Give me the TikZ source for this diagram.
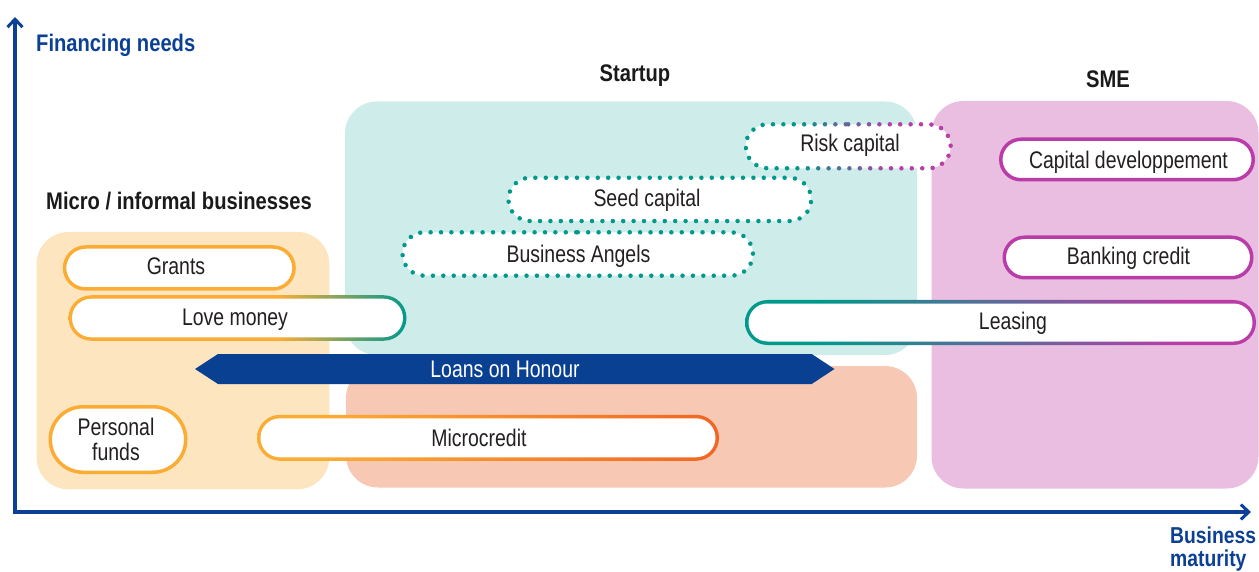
\documentclass[tikz,border=0pt]{standalone}
\usepackage{fontspec}
\setmainfont{Liberation Sans}[UprightFeatures={FakeStretch=0.81}, BoldFeatures={FakeStretch=0.84}]
\usetikzlibrary{shapes.misc,arrows.meta}

\definecolor{axisblue}{RGB}{12,64,148}
\definecolor{navy}{RGB}{10,64,145}
\definecolor{orangeB}{RGB}{251,172,52}
\definecolor{redorange}{RGB}{242,101,34}
\definecolor{tealB}{RGB}{0,153,140}
\definecolor{purpleB}{RGB}{186,60,168}
\definecolor{microbg}{RGB}{253,230,191}
\definecolor{tealbg}{RGB}{206,237,234}
\definecolor{salmonbg}{RGB}{247,201,180}
\definecolor{pinkbg}{RGB}{233,190,225}
\definecolor{txtc}{RGB}{35,31,32}
\definecolor{headc}{RGB}{26,26,26}

\pgfdeclarehorizontalshading{lovegrad}{100bp}{color(0bp)=(orangeB); color(56bp)=(orangeB); color(75bp)=(tealB); color(100bp)=(tealB)}
\pgfdeclarehorizontalshading{leasegrad}{100bp}{color(0bp)=(tealB); color(32bp)=(tealB); color(68bp)=(purpleB); color(100bp)=(purpleB)}
\pgfdeclarehorizontalshading{micrograd}{100bp}{color(0bp)=(orangeB); color(32bp)=(orangeB); color(75bp)=(redorange); color(100bp)=(redorange)}

\tikzset{
  bgbox/.style={rectangle, rounded corners=32pt, inner sep=0pt, outer sep=0pt},
  pillbase/.style={rounded rectangle, inner sep=0pt, outer sep=0pt},
  solidpill/.style n args={3}{pillbase, draw=#1, line width=3.5pt, fill=white,
      minimum width=#2-3.5pt, minimum height=#3-3.5pt},
  gradpill/.style n args={3}{pillbase, shade, shading=#1,
      minimum width=#2, minimum height=#3},
  innerpill/.style 2 args={pillbase, fill=white,
      minimum width=#1-7pt, minimum height=#2-7pt},
  dotpill/.style n args={3}{pillbase, draw=#1, line width=4.5pt,
      dash pattern=on 0pt off 10.4pt, line cap=round, fill=white,
      minimum width=#2, minimum height=#3},
  pilltxt/.style={font=\fontsize{24}{25}\selectfont, text=txtc, inner sep=0pt, anchor=base},
  headtxt/.style={font=\fontsize{24}{25}\selectfont\bfseries, text=headc, inner sep=0pt, anchor=base},
  axistxt/.style={font=\fontsize{24}{25}\selectfont\bfseries, text=axisblue, inner sep=0pt, anchor=base west},
  axisline/.style={draw=axisblue, line width=3.5pt, line join=miter,
      {Straight Barb[length=8pt,width=15pt,line width=3pt]}-{Straight Barb[length=8pt,width=15pt,line width=3pt]}},
}

\begin{document}
\begin{tikzpicture}[x=1pt,y=-1pt]
\useasboundingbox (0,0) rectangle (1259,572);

% background zones
\node[bgbox, fill=microbg, minimum width=292.8pt, minimum height=257.3pt] (microbox) at (182.9,360.65) {};
\node[bgbox, fill=tealbg, minimum width=572pt, minimum height=253.5pt] (startbox) at (631,228.25) {};
\node[bgbox, fill=salmonbg, minimum width=571pt, minimum height=121.5pt] (salmonbox) at (631.5,426.75) {};
\node[bgbox, fill=pinkbg, minimum width=327pt, minimum height=387.5pt] (smebox) at (1095,294.75) {};

% axes
\coordinate (ytip) at (15,17);
\coordinate (origin) at (15,512);
\coordinate (xtip) at (1251,512);
\draw[axisline] (ytip) -- (origin) -- (xtip);

\node[axistxt] (ylab) at (36,51.7) {Financing needs};
\node[axistxt, font=\fontsize{23}{25}\selectfont\bfseries] (xlab1) at (1170,543) {Business};
\node[axistxt, font=\fontsize{23}{25}\selectfont\bfseries] (xlab2) at (1170,566) {maturity};

% headings
\node[headtxt] (hmicro) at (179,210) {Micro / informal businesses};
\node[headtxt] (hstart) at (635,81.7) {Startup};
\node[headtxt] (hsme) at (1108,87.7) {SME};

% Loans on Honour arrow
\fill[navy] (195,369) -- (218,354) -- (811.7,354) -- (834.5,369) -- (811.7,384) -- (218,384) -- cycle;
\node[pilltxt, text=white] (loans) at (505,377) {Loans on Honour};

% micro pills
\node[solidpill={orangeB}{233}{45.5}] (grants) at (179.3,268) {};
\node[pilltxt] (grants-t) at (176,274.3) {Grants};

\node[gradpill={lovegrad}{338}{45.5}] (love) at (237.5,318) {};
\node[innerpill={338}{45.5}] (love-in) at (love) {};
\node[pilltxt] (love-t) at (235,326) {Love money};

\node[solidpill={orangeB}{139}{69}] (personal) at (118,439.5) {};
\node[font=\fontsize{24}{25}\selectfont, text=txtc, inner sep=0pt, align=center] (personal-t) at (116,439.5) {Personal\\funds};

\node[gradpill={micrograd}{462}{46}] (microc) at (488,437.8) {};
\node[innerpill={462}{46}] (microc-in) at (microc) {};
\node[pilltxt] (microc-t) at (479,446) {Microcredit};

% startup dotted pills
\node[dotpill={tealB}{350.5}{43.4}] (angels) at (577.75,254) {};
\node[pilltxt] (angels-t) at (578.5,262) {Business Angels};

\node[dotpill={tealB}{302.8}{43.3}] (seed) at (659.8,199.4) {};
\node[pilltxt] (seed-t) at (647,206.5) {Seed capital};

\node[pillbase, fill=white, minimum width=205pt, minimum height=44pt] (risk) at (848.2,146.3) {};
\foreach \i in {0,...,23} {
  \pgfmathsetmacro\xa{744+\i*9}
  \pgfmathsetmacro\pc{max(0,min(100,\xa-790.5))}
  \begin{scope}
    \clip (\xa,110) rectangle ({\xa+9},185);
    \node[dotpill={purpleB!\pc!tealB}{205}{44}, fill=none] (risk-\i) at (risk) {};
  \end{scope}
}
\node[pilltxt] (risk-t) at (850,151.7) {Risk capital};

% SME pills
\node[solidpill={purpleB}{256}{44}] (capdev) at (1127,159.5) {};
\node[pilltxt] (capdev-t) at (1128.5,168.3) {Capital developpement};

\node[solidpill={purpleB}{251}{44}] (bank) at (1128,257.5) {};
\node[pilltxt] (bank-t) at (1128.5,265) {Banking credit};

\node[gradpill={leasegrad}{511}{45}] (leasing) at (1000.5,322.5) {};
\node[innerpill={511}{45}] (leasing-in) at (leasing) {};
\node[pilltxt] (leasing-t) at (1013,330) {Leasing};

\end{tikzpicture}
\end{document}
